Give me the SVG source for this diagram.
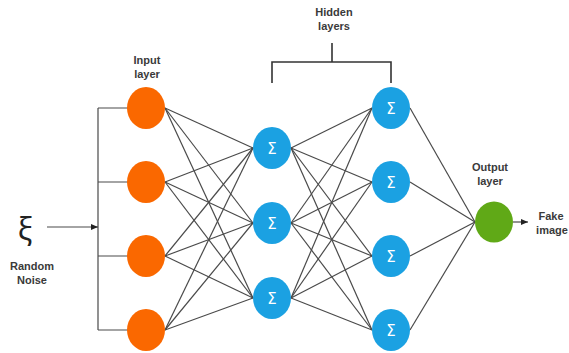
<svg xmlns="http://www.w3.org/2000/svg" width="569" height="353" viewBox="0 0 569 353">
<defs>
<style>
.lbl{font-family:"Liberation Sans",Arial,sans-serif;font-size:11px;font-weight:bold;fill:#3a3a3a;text-anchor:middle}
.sig{font-family:"DejaVu Sans","Liberation Sans",sans-serif;font-size:15px;fill:#fff;text-anchor:middle}
.in{fill:#fa6800}
.hid{fill:#1ba1e2}
.out{fill:#60a917}
.c line,.c path{stroke:#4a4a4a;stroke-width:1.2;fill:none}
.br{stroke:#333;stroke-width:1.6;fill:none}
</style>
<marker id="ah" markerWidth="8" markerHeight="8" refX="7" refY="4" orient="auto" markerUnits="userSpaceOnUse">
<path d="M0,1 L7,4 L0,7 Z" fill="#222"/>
</marker>
</defs>
<rect width="569" height="353" fill="#fff"/>

<g id="connectors" class="c">
<line x1="165" y1="108" x2="253" y2="148"/><line x1="165" y1="108" x2="253" y2="223"/><line x1="165" y1="108" x2="253" y2="298"/>
<line x1="165" y1="182" x2="253" y2="148"/><line x1="165" y1="182" x2="253" y2="223"/><line x1="165" y1="182" x2="253" y2="298"/>
<line x1="165" y1="256" x2="253" y2="148"/><line x1="165" y1="256" x2="253" y2="223"/><line x1="165" y1="256" x2="253" y2="298"/>
<line x1="165" y1="330" x2="253" y2="148"/><line x1="165" y1="330" x2="253" y2="223"/><line x1="165" y1="330" x2="253" y2="298"/>
<line x1="291" y1="148" x2="372" y2="108"/><line x1="291" y1="148" x2="372" y2="182"/><line x1="291" y1="148" x2="372" y2="256"/><line x1="291" y1="148" x2="372" y2="330"/>
<line x1="291" y1="223" x2="372" y2="108"/><line x1="291" y1="223" x2="372" y2="182"/><line x1="291" y1="223" x2="372" y2="256"/><line x1="291" y1="223" x2="372" y2="330"/>
<line x1="291" y1="298" x2="372" y2="108"/><line x1="291" y1="298" x2="372" y2="182"/><line x1="291" y1="298" x2="372" y2="256"/><line x1="291" y1="298" x2="372" y2="330"/>
<line x1="410" y1="108" x2="475" y2="222"/><line x1="410" y1="182" x2="475" y2="222"/><line x1="410" y1="256" x2="475" y2="222"/><line x1="410" y1="330" x2="475" y2="222"/>
<path d="M98,108 V330 M98,108 H128 M98,182 H128 M98,256 H128 M98,330 H128"/>
<line x1="47" y1="227" x2="98" y2="227" marker-end="url(#ah)"/>
<line x1="513" y1="222" x2="528" y2="222" marker-end="url(#ah)"/>
</g>

<g id="hidden-bracket">
<path class="br" d="M332,43 V62 M272,83 V62 H391 V83"/>
<text class="lbl" x="334" y="16">Hidden</text>
<text class="lbl" x="334" y="30">layers</text>
</g>

<g id="noise">
<text x="25" y="240" font-family="Noto Sans,DejaVu Sans,sans-serif" font-size="30" fill="#222" text-anchor="middle">ξ</text>
<text class="lbl" x="32" y="270">Random</text>
<text class="lbl" x="32" y="284">Noise</text>
</g>

<g id="input-label"><text class="lbl" x="147" y="64">Input</text><text class="lbl" x="147" y="78">layer</text></g>
<g id="in1"><ellipse class="in" cx="146" cy="108" rx="19" ry="21"/></g>
<g id="in2"><ellipse class="in" cx="146" cy="182" rx="19" ry="21"/></g>
<g id="in3"><ellipse class="in" cx="146" cy="256" rx="19" ry="21"/></g>
<g id="in4"><ellipse class="in" cx="146" cy="330" rx="19" ry="21"/></g>

<g id="h1a"><ellipse class="hid" cx="272" cy="148" rx="19" ry="21"/><text class="sig" x="272" y="154">Σ</text></g>
<g id="h1b"><ellipse class="hid" cx="272" cy="223" rx="19" ry="21"/><text class="sig" x="272" y="229">Σ</text></g>
<g id="h1c"><ellipse class="hid" cx="272" cy="298" rx="19" ry="21"/><text class="sig" x="272" y="304">Σ</text></g>

<g id="h2a"><ellipse class="hid" cx="391" cy="108" rx="19" ry="21"/><text class="sig" x="391" y="114">Σ</text></g>
<g id="h2b"><ellipse class="hid" cx="391" cy="182" rx="19" ry="21"/><text class="sig" x="391" y="188">Σ</text></g>
<g id="h2c"><ellipse class="hid" cx="391" cy="256" rx="19" ry="21"/><text class="sig" x="391" y="262">Σ</text></g>
<g id="h2d"><ellipse class="hid" cx="391" cy="330" rx="19" ry="21"/><text class="sig" x="391" y="336">Σ</text></g>

<g id="output"><ellipse class="out" cx="494" cy="222" rx="19" ry="20.5"/></g>
<g id="output-label"><text class="lbl" x="490" y="171">Output</text><text class="lbl" x="490" y="185">layer</text></g>
<g id="fake"><text class="lbl" x="551" y="220">Fake</text><text class="lbl" x="552" y="234">image</text></g>
</svg>
